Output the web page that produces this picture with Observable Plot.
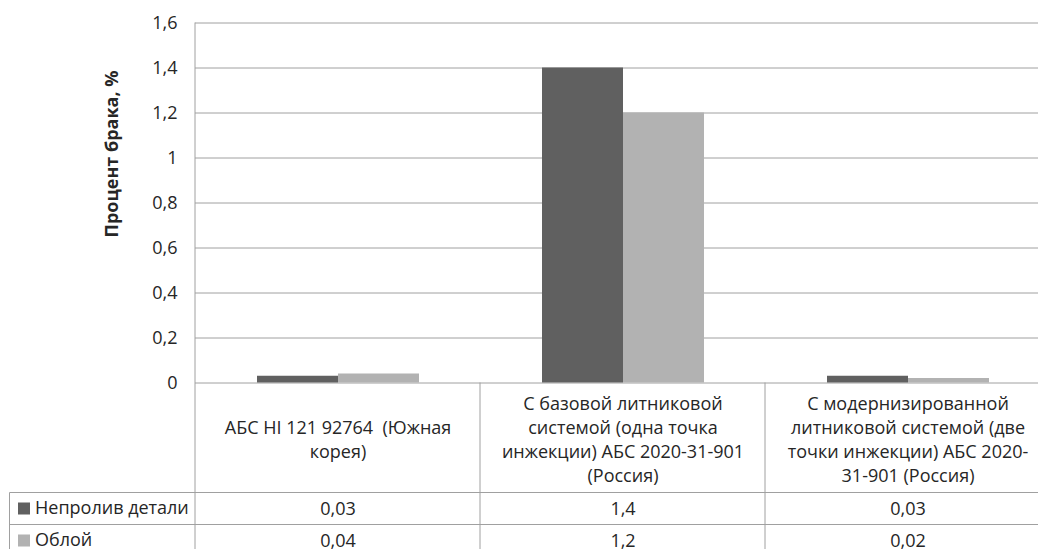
<!DOCTYPE html>
<html>
<head>
<meta charset="utf-8">
<script src="https://cdn.jsdelivr.net/npm/d3@7"></script>
<script src="https://cdn.jsdelivr.net/npm/@observablehq/plot@0.6"></script>
<style>
  html, body { margin: 0; padding: 0; background: #fff; overflow: hidden; }
  #chart { width: 1038px; height: 549px; overflow: hidden; }
  #chart svg { max-width: none !important; }
</style>
</head>
<body>
<div id="chart"></div>
<script>
// Categories (wrapped as they appear in the table header)
const categories = [
  "АБС HI 121 92764  (Южная\nкорея)",
  "С базовой литниковой\nсистемой (одна точка\nинжекции) АБС 2020-31-901\n(Россия)",
  "С модернизированной\nлитниковой системой (две\nточки инжекции) АБС 2020-\n31-901 (Россия)"
];
const seriesNames = ["Непролив детали", "Облой"];
const nepolivValues = [0.03, 1.4, 0.03];
const oblojValues = [0.04, 1.2, 0.02];
const yTicks = [0, 0.2, 0.4, 0.6, 0.8, 1, 1.2, 1.4, 1.6];
const seriesColors = ["#606060", "#b2b2b2"];
const yLabel = "Процент брака, %";

const seriesValues = [nepolivValues, oblojValues];
const rows = categories.flatMap((c, i) =>
  seriesNames.map((s, j) => ({category: c, series: s, value: seriesValues[j][i]}))
);

const fmt = (v) => String(v).replace(".", ",");
const FONT = "Open Sans, sans-serif";
const FS = 18;
const TEXT = "#262626";
const LINE = "#a0a0a0";

const HEADER_H = 110;
const ROW_H = 32;

const chart = Plot.plot({
  width: 1052,
  height: 549,
  marginLeft: 195,
  marginRight: 2,
  marginTop: 22.5,
  marginBottom: 166.5,
  style: {fontFamily: FONT, fontSize: FS + "px", color: TEXT, background: "#fff"},
  fx: {domain: categories, padding: 0, axis: null},
  x: {domain: seriesNames, paddingInner: 0, paddingOuter: 0.75, axis: null},
  y: {domain: [0, 1.6], ticks: yTicks, tickFormat: fmt, tickSize: 0, tickPadding: 18, label: null},
  color: {domain: seriesNames, range: seriesColors},
  marks: [
    Plot.ruleY(yTicks, {stroke: LINE, strokeWidth: 1}),
    Plot.barY(rows, {fx: "category", x: "series", y: "value", fill: "series"}),
    // table header: category names, centred in the header row
    Plot.text(categories, {
      fx: (d) => d, text: (d) => d, frameAnchor: "bottom", lineAnchor: "middle",
      dy: HEADER_H / 2, fontSize: FS, fill: TEXT, lineHeight: 1.33
    }),
    // table rows: values per series
    ...seriesNames.map((s, j) =>
      Plot.text(rows.filter((d) => d.series === s), {
        fx: "category", text: (d) => fmt(d.value), frameAnchor: "bottom", lineAnchor: "middle",
        dy: HEADER_H + ROW_H * j + ROW_H / 2, fontSize: FS, fill: TEXT
      })
    )
  ]
});

document.getElementById("chart").appendChild(chart);

// Table grid and legend cells, placed from the facet and y scales
const svg = d3.select(chart);
const fxScale = chart.scale("fx");
const yScale = chart.scale("y");
const y0 = yScale.apply(0);
const yTop = yScale.apply(1.6);
const step = fxScale.step !== undefined ? fxScale.step : fxScale.bandwidth;
const starts = fxScale.domain.map((c) => fxScale.apply(c));
const left = starts[0];
const right = starts[starts.length - 1] + step;
const headerBottom = y0 + HEADER_H;
const tableLeft = 9.5;
const bottom = 549 + 20;

const g = svg.append("g").attr("stroke", LINE).attr("stroke-width", 1).attr("fill", "none");
// plot-area left border, continues down through the table
g.append("line").attr("x1", left).attr("x2", left).attr("y1", yTop).attr("y2", bottom);
// column separators
starts.slice(1).concat([right]).forEach((x) => {
  g.append("line").attr("x1", x).attr("x2", x).attr("y1", y0).attr("y2", bottom);
});
// row separators
[headerBottom, headerBottom + ROW_H, headerBottom + 2 * ROW_H].forEach((y) => {
  g.append("line").attr("x1", tableLeft).attr("x2", right).attr("y1", y).attr("y2", y);
});
g.append("line").attr("x1", tableLeft).attr("x2", tableLeft).attr("y1", headerBottom).attr("y2", bottom);

// legend keys in the row headers
seriesNames.forEach((s, j) => {
  const cy = headerBottom + ROW_H * j + ROW_H / 2;
  svg.append("rect")
    .attr("x", 18).attr("y", cy - 6).attr("width", 12).attr("height", 12)
    .attr("fill", seriesColors[j]);
  svg.append("text")
    .attr("x", 35).attr("y", cy)
    .attr("dy", "0.32em")
    .attr("text-anchor", "start")
    .attr("font-family", FONT).attr("font-size", FS).attr("fill", TEXT)
    .text(s);
});

// y axis title
svg.append("text")
  .attr("transform", "translate(112,154) rotate(-90)")
  .attr("text-anchor", "middle")
  .attr("dy", "0.35em")
  .attr("font-family", FONT).attr("font-size", FS).attr("font-weight", "bold").attr("fill", TEXT)
  .text(yLabel);
</script>
</body>
</html>
